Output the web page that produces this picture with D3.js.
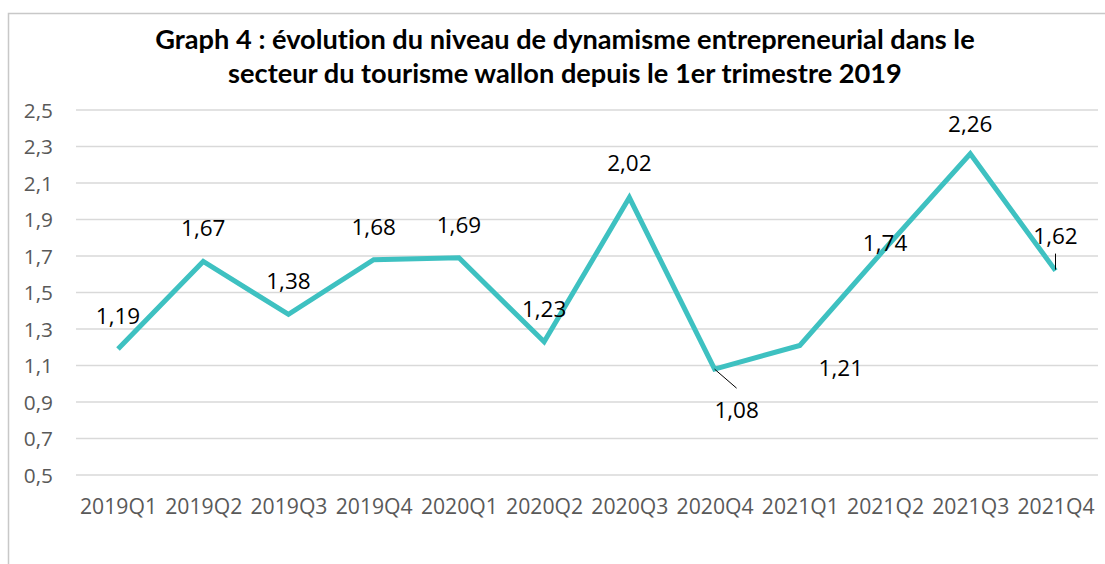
<!DOCTYPE html>
<html>
<head>
<meta charset="utf-8">
<script src="https://cdn.jsdelivr.net/npm/d3@7"></script>
<style>
html,body{margin:0;padding:0;background:#fff;}
svg{display:block;}
text{font-variant-ligatures:none;}
</style>
</head>
<body>
<svg id="chart" width="1105" height="564"></svg>
<script>
const titleLines = ["Graph 4 : évolution du niveau de dynamisme entrepreneurial dans le", "secteur du tourisme wallon depuis le 1er trimestre 2019"];
const categories = ["2019Q1","2019Q2","2019Q3","2019Q4","2020Q1","2020Q2","2020Q3","2020Q4","2021Q1","2021Q2","2021Q3","2021Q4"];
const values = [1.19,1.67,1.38,1.68,1.69,1.23,2.02,1.08,1.21,1.74,2.26,1.62];
const yTicks = [0.5,0.7,0.9,1.1,1.3,1.5,1.7,1.9,2.1,2.3,2.5];
// label placement offsets (px) relative to each point: [dx, dy, leader]
const labelOffsets = [[0,-33,0],[0,-33,0],[0,-33,0],[0,-33,0],[0,-33,0],[0,-33,0],[0,-34,0],[22,41,1],[41,23,0],[0,-6,0],[0,-30,0],[0,-34,1]];

const svg = d3.select("#chart");
const fmt = v => d3.format(".2f")(v).replace(".", ",");
const fmtTick = v => d3.format(".1f")(v).replace(".", ",");

// frame
svg.append("rect").attr("x",8.5).attr("y",13.5).attr("width",1200).attr("height",700)
  .attr("fill","none").attr("stroke","#c8c8c8").attr("stroke-width",1.5);

const x = d3.scalePoint().domain(categories).range([118, 1055.5]);
const y = d3.scaleLinear().domain([0.5, 2.5]).range([475, 110]);

// gridlines
svg.append("g").selectAll("line").data(yTicks).join("line")
  .attr("x1",76).attr("x2",1098)
  .attr("y1",d=>y(d)).attr("y2",d=>y(d))
  .attr("stroke","#d9d9d9").attr("stroke-width",1.5);

// y axis
const yAxis = d3.axisLeft(y).tickValues(yTicks).tickFormat(fmtTick).tickSize(0).tickPadding(0);
const gy = svg.append("g").attr("transform","translate(53,0)").call(yAxis);
gy.select(".domain").remove();
gy.selectAll("text").attr("font-family","Open Sans, sans-serif").attr("font-size",20.8).attr("fill","#595959").attr("dy","0.34em");

// x axis
const xAxis = d3.axisBottom(x).tickSize(0).tickPadding(0);
const gx = svg.append("g").attr("transform","translate(0,507)").call(xAxis);
gx.select(".domain").remove();
gx.selectAll("text").attr("font-family","Open Sans, sans-serif").attr("font-size",21.2).attr("fill","#595959").attr("dy","0.34em");

// title
svg.append("g").selectAll("text").data(titleLines).join("text")
  .attr("x",565).attr("y",(d,i)=>49+i*34)
  .attr("text-anchor","middle")
  .attr("font-family","Lato, sans-serif").attr("font-weight","bold").attr("font-size",27.2)
  .attr("fill","#000").text(d=>d);

// line
const line = d3.line().x((d,i)=>x(categories[i])).y(d=>y(d));
svg.append("path").datum(values).attr("d",line)
  .attr("fill","none").attr("stroke","#3EC1C1").attr("stroke-width",5).attr("stroke-linejoin","miter");

// leader lines
values.forEach((v,i)=>{
  const [dx,dy,lead] = labelOffsets[i];
  if(!lead) return;
  const px = x(categories[i]), py = y(v);
  if (dy > 0) {
    svg.append("line").attr("x1",px).attr("y1",py).attr("x2",px+dx).attr("y2",py+19)
      .attr("stroke","#000").attr("stroke-width",1);
  } else {
    svg.append("line").attr("x1",px).attr("y1",py-1).attr("x2",px).attr("y2",py-17)
      .attr("stroke","#000").attr("stroke-width",1);
  }
});

// data labels
svg.append("g").selectAll("text").data(values).join("text")
  .attr("x",(d,i)=>x(categories[i])+labelOffsets[i][0])
  .attr("y",(d,i)=>y(d)+labelOffsets[i][1])
  .attr("dy","0.35em")
  .attr("text-anchor","middle")
  .attr("font-family","Open Sans, sans-serif").attr("font-size",22.5)
  .attr("fill","#000").text(d=>fmt(d));
</script>
</body>
</html>
